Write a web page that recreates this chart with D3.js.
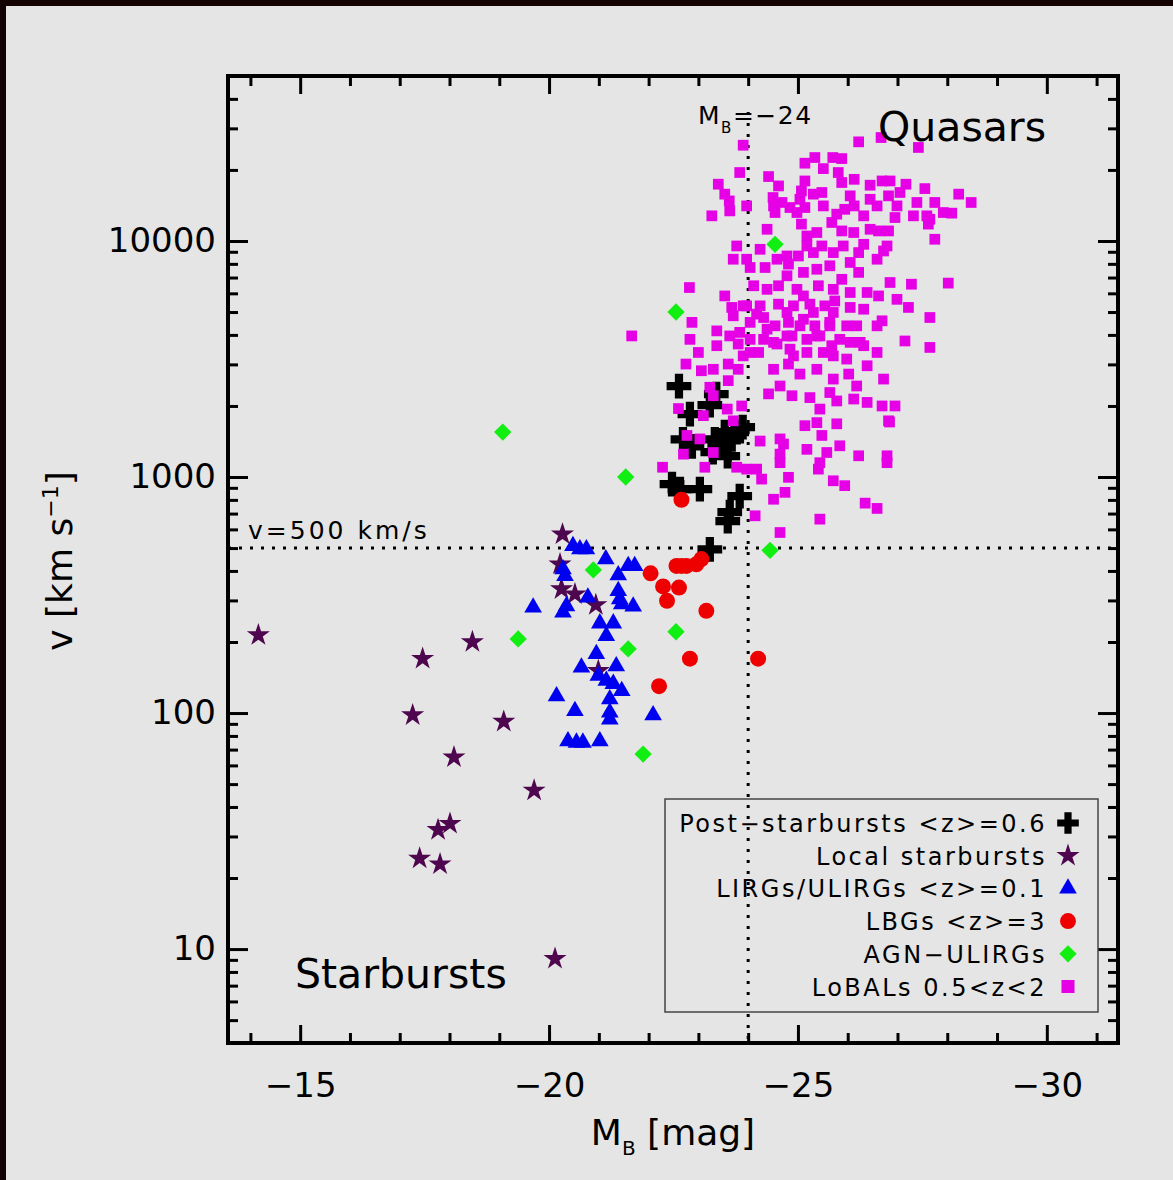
<!DOCTYPE html>
<html>
<head>
<meta charset="utf-8">
<script src="https://cdn.jsdelivr.net/npm/d3@7"></script>
<style>
  body { margin: 0; background: #140202; }
  svg text { font-family: "DejaVu Sans", sans-serif; fill: #000; }
</style>
</head>
<body>
<div id="chart"></div>
<script>
// [M_B, v (km/s)]
const postStarbursts = [
  [-22.61, 2425], [-23.36, 2244], [-23.23, 2014], [-22.83, 1845], [-22.69, 1445],
  [-22.87, 1349], [-23.33, 1445], [-23.53, 1549], [-23.67, 1445], [-23.89, 1626],
  [-23.77, 1549], [-23.59, 1225], [-23.29, 1274], [-23.43, 1349], [-22.47, 932],
  [-22.63, 888], [-23.03, 888], [-23.83, 830], [-23.63, 710], [-23.59, 650],
  [-23.23, 494]
]

const localStarbursts = [
  [-14.16, 214], [-18.46, 200], [-17.46, 170], [-17.26, 98], [-19.09, 92],
  [-18.09, 65], [-19.70, 47], [-18.01, 34], [-17.77, 32], [-17.40, 24.2],
  [-17.81, 22.9], [-20.12, 9.1], [-20.25, 335], [-20.27, 572], [-20.22, 427],
  [-20.52, 319], [-20.94, 287], [-20.99, 151]
]

const lirgs = [
  [-20.48, 511], [-20.62, 495], [-20.75, 495], [-21.14, 449], [-20.28, 407],
  [-20.32, 381], [-21.39, 384], [-21.59, 420], [-21.72, 420], [-19.68, 280],
  [-20.35, 284], [-20.28, 267], [-20.78, 309], [-21.39, 329], [-21.42, 304],
  [-21.46, 289], [-21.69, 283], [-21.02, 240], [-21.29, 240], [-21.15, 212],
  [-20.95, 178], [-20.65, 156], [-21.35, 158], [-20.99, 144], [-21.15, 137],
  [-21.29, 133], [-20.15, 118], [-21.46, 124], [-21.22, 114.5], [-21.22, 100.6],
  [-21.22, 94], [-20.52, 102], [-22.09, 98], [-20.38, 76], [-20.55, 75],
  [-20.68, 75], [-21.02, 76]
]

const lbgs = [
  [-22.66, 801], [-22.04, 391], [-22.29, 344], [-22.61, 340], [-22.37, 299],
  [-23.16, 271], [-22.83, 170], [-22.21, 130], [-24.20, 170], [-22.56, 420],
  [-22.66, 420], [-22.76, 420], [-22.96, 427], [-23.06, 449]
]

const agnUlirgs = [
  [-22.55, 5000], [-19.07, 1550], [-21.54, 1000], [-24.54, 9680], [-24.44, 489],
  [-20.89, 404], [-19.38, 206], [-21.59, 187], [-22.55, 221], [-21.89, 67]
]

const lobals = [
  [-26.22, 26300], [-26.67, 27430], [-27.42, 24900], [-23.90, 25450], [-23.83, 19500],
  [-24.41, 18750], [-24.61, 17110], [-25.14, 21360], [-25.34, 22570], [-25.51, 20260],
  [-25.70, 22570], [-25.88, 22340], [-25.81, 19500], [-25.14, 17960], [-25.88, 17690],
  [-26.13, 18250], [-26.45, 17230], [-26.69, 17960], [-26.85, 17960], [-27.17, 17400],
  [-27.55, 16670], [-23.40, 17400], [-23.53, 15790], [-23.62, 14780], [-23.63, 13410],
  [-23.27, 12780], [-23.97, 14080], [-24.50, 15280], [-24.51, 14080], [-24.68, 14560],
  [-24.84, 13860], [-25.07, 16290], [-25.04, 15020], [-25.31, 15790], [-25.48, 16050],
  [-25.51, 14080], [-25.14, 13860], [-24.54, 13200], [-24.98, 13200], [-26.05, 15530],
  [-26.13, 14080], [-26.45, 15020], [-26.59, 14080], [-26.82, 15530], [-26.99, 14080],
  [-27.05, 16050], [-26.32, 12780], [-25.78, 12990], [-25.94, 13620], [-26.95, 12570],
  [-27.39, 14560], [-27.32, 12780], [-27.75, 14560], [-27.59, 12780], [-27.62, 11790],
  [-27.92, 13200], [-28.09, 13120], [-28.23, 15790], [-28.48, 14560], [-27.75, 10170],
  [-24.38, 11210], [-25.07, 11790], [-25.68, 11980], [-25.88, 11030], [-26.12, 10860],
  [-26.45, 11210], [-26.62, 11030], [-26.82, 11030], [-25.18, 10500], [-25.38, 10860],
  [-25.48, 9525], [-25.18, 9525], [-25.01, 8640], [-25.31, 8930], [-25.71, 8930],
  [-25.91, 9525], [-26.22, 8930], [-26.32, 9680], [-26.72, 9070], [-26.79, 9525],
  [-23.77, 9525], [-23.70, 8370], [-24.24, 9220], [-23.97, 8370], [-24.04, 7720],
  [-24.34, 7720], [-24.78, 8640], [-24.81, 7980], [-24.58, 8370], [-24.78, 7120],
  [-25.11, 7360], [-25.38, 7590], [-25.64, 7850], [-26.05, 8110], [-26.22, 7360],
  [-26.59, 8370], [-26.85, 6670], [-27.28, 6560], [-28.02, 6630], [-22.82, 6350],
  [-23.53, 5850], [-23.67, 5230], [-24.11, 6460], [-24.38, 6240], [-24.61, 6460],
  [-24.98, 6240], [-25.11, 5850], [-25.41, 6460], [-25.71, 6240], [-25.88, 6880],
  [-26.05, 6050], [-26.39, 6050], [-26.62, 5850], [-23.90, 5310], [-24.24, 5310],
  [-24.61, 5400], [-24.91, 5310], [-25.24, 5400], [-25.54, 5310], [-25.74, 5570],
  [-26.05, 5230], [-26.32, 5140], [-26.99, 5660], [-27.22, 5230], [-27.65, 4740],
  [-22.87, 4520], [-23.37, 4160], [-23.63, 3960], [-24.04, 4520], [-24.31, 4740],
  [-24.54, 4370], [-24.81, 4520], [-25.11, 4660], [-25.34, 4370], [-25.64, 4520],
  [-25.98, 4370], [-26.18, 4370], [-26.59, 4370], [-22.83, 3830], [-23.37, 3600],
  [-23.00, 3370], [-23.80, 3660], [-24.04, 3370], [-24.31, 3830], [-24.58, 3660],
  [-24.88, 3960], [-25.18, 3830], [-25.44, 3960], [-25.68, 3600], [-26.05, 3720],
  [-26.32, 3600], [-26.59, 3370], [-27.15, 3770], [-27.65, 3540], [-24.84, 3480],
  [-25.51, 3370], [-27.65, 12360], [-26.72, 2600], [-26.95, 2000], [-26.84, 1710],
  [-26.69, 2000], [-21.66, 3960], [-22.75, 3010], [-23.06, 2820], [-23.30, 2860],
  [-23.60, 3010], [-23.80, 2860], [-23.23, 2400], [-23.60, 2560], [-22.60, 1950],
  [-23.10, 1820], [-23.30, 2210], [-23.58, 1940], [-23.87, 2000], [-23.70, 1730],
  [-22.77, 1500], [-23.03, 1450], [-23.30, 1270], [-22.70, 1250], [-22.28, 1100],
  [-23.13, 1100], [-23.77, 1100], [-23.97, 1080], [-24.17, 1080], [-24.27, 980],
  [-24.81, 997], [-24.24, 1420], [-24.64, 1450], [-24.71, 1380], [-24.64, 1250],
  [-24.64, 1150], [-25.18, 1310], [-25.41, 1080], [-25.44, 1150], [-25.71, 964],
  [-25.94, 919], [-25.84, 1356], [-26.22, 1230], [-26.79, 1230], [-26.79, 1150],
  [-24.51, 805], [-24.74, 861], [-24.14, 685], [-24.64, 582], [-25.44, 663],
  [-26.35, 775], [-26.59, 736], [-25.14, 1650], [-25.38, 1700], [-25.48, 1500],
  [-25.78, 1680], [-25.58, 1270], [-26.82, 1730], [-26.69, 4590], [-26.25, 3720],
  [-26.39, 2960], [-25.98, 3160], [-26.02, 2730], [-26.18, 2430], [-25.71, 2600],
  [-25.38, 2860], [-25.04, 2730], [-24.81, 3010], [-24.51, 2860], [-24.64, 2430],
  [-24.41, 2250], [-24.88, 2210], [-25.24, 2170], [-25.44, 1940], [-25.78, 2100],
  [-26.12, 2140], [-26.39, 2070], [-25.64, 2280], [-25.18, 3370], [-24.91, 3260],
  [-25.71, 3260], [-24.21, 3370], [-23.90, 3260], [-24.04, 3830], [-24.38, 4230],
  [-24.78, 3960], [-24.51, 3720], [-25.04, 4370], [-25.38, 3960], [-25.64, 4370],
  [-25.84, 3830], [-25.31, 4980], [-24.78, 4980], [-24.17, 4900], [-23.70, 4820],
  [-23.83, 4100], [-23.97, 5310], [-25.71, 4980]
]

const xMajorTicks = [-15, -20, -25, -30]
const xMinorTicks = [-14, -16, -17, -18, -19, -21, -22, -23, -24, -26, -27, -28, -29, -31]
const yMajorTicks = [10, 100, 1000, 10000]
const yMinorTicks = [5, 6, 7, 8, 9, 20, 30, 40, 50, 60, 70, 80, 90,
  200, 300, 400, 500, 600, 700, 800, 900, 2000, 3000, 4000, 5000, 6000, 7000, 8000, 9000,
  20000, 30000, 40000]

const legendLabels = ['Post\u2212starbursts <z>=0.6', 'Local starbursts', 'LIRGs/ULIRGs <z>=0.1',
  'LBGs <z>=3', 'AGN\u2212ULIRGs', 'LoBALs 0.5<z<2']

const W = 1173, H = 1180
const plot = {left: 228, right: 1118, top: 76, bottom: 1043}

const x = d3.scaleLinear().domain([-13.55, -31.43]).range([plot.left, plot.right])
const y = d3.scaleLog().domain([4, 50000]).range([plot.bottom, plot.top])

const svg = d3.select('#chart').append('svg')
  .attr('width', W).attr('height', H)

svg.append('rect').attr('x', 6).attr('y', 6).attr('width', W - 6).attr('height', H - 6)
  .attr('fill', '#e5e5e5')

// marker definitions
const series = [
  {data: postStarbursts, type: d3.symbolCross, size: 340, color: '#000', rot: 0},
  {data: localStarbursts, type: d3.symbolStar, size: 165, color: '#4e064f', rot: 0},
  {data: lirgs, type: d3.symbolTriangle, size: 135, color: '#0000f0', rot: 0},
  {data: lbgs, type: d3.symbolCircle, size: 200, color: '#ee0000', rot: 0},
  {data: agnUlirgs, type: d3.symbolSquare, size: 150, color: '#11ee11', rot: 45},
  {data: lobals, type: d3.symbolSquare, size: 115, color: '#e600e6', rot: 0}
]

// reference lines
svg.append('line')
  .attr('x1', x(-24)).attr('x2', x(-24)).attr('y1', plot.top + 36).attr('y2', plot.bottom)
  .attr('stroke', '#000').attr('stroke-width', 3).attr('stroke-dasharray', '3,8')
svg.append('line')
  .attr('x1', plot.left).attr('x2', plot.right).attr('y1', y(500)).attr('y2', y(500))
  .attr('stroke', '#000').attr('stroke-width', 3).attr('stroke-dasharray', '3,8')

// points
series.forEach((s) => {
  let sym = d3.symbol().type(s.type).size(s.size)
  svg.append('g').selectAll('path')
    .data(s.data).enter().append('path')
    .attr('d', sym)
    .attr('transform', (d) => 'translate(' + x(d[0]) + ',' + y(d[1]) + ') rotate(' + s.rot + ')')
    .attr('fill', s.color)
})

// axes
let drawAxis = (axis, tx, ty) => {
  let g = svg.append('g').attr('transform', 'translate(' + tx + ',' + ty + ')').call(axis)
  g.select('.domain').remove()
  g.selectAll('line').attr('stroke', '#000').attr('stroke-width', 3)
  g.selectAll('text').style('font-size', '34px')
  return g
}

drawAxis(d3.axisBottom(x).tickValues(xMajorTicks).tickSize(-18).tickPadding(30)
  .tickFormat((d) => '\u2212' + Math.abs(d)), 0, plot.bottom)
drawAxis(d3.axisBottom(x).tickValues(xMinorTicks).tickSize(-10).tickFormat(''), 0, plot.bottom)
drawAxis(d3.axisTop(x).tickValues(xMajorTicks).tickSize(-18).tickFormat(''), 0, plot.top)
drawAxis(d3.axisTop(x).tickValues(xMinorTicks).tickSize(-10).tickFormat(''), 0, plot.top)
drawAxis(d3.axisLeft(y).tickValues(yMajorTicks).tickSize(-20).tickPadding(12)
  .tickFormat(d3.format('d')), plot.left, 0)
drawAxis(d3.axisLeft(y).tickValues(yMinorTicks).tickSize(-10).tickFormat(''), plot.left, 0)
drawAxis(d3.axisRight(y).tickValues(yMajorTicks).tickSize(-20).tickFormat(''), plot.right, 0)
drawAxis(d3.axisRight(y).tickValues(yMinorTicks).tickSize(-10).tickFormat(''), plot.right, 0)

svg.append('rect')
  .attr('x', plot.left).attr('y', plot.top)
  .attr('width', plot.right - plot.left).attr('height', plot.bottom - plot.top)
  .attr('fill', 'none').attr('stroke', '#000').attr('stroke-width', 4)

// axis titles
let xt = svg.append('text').attr('x', 673).attr('y', 1145).attr('text-anchor', 'middle')
  .style('font-size', '36px')
xt.append('tspan').text('M')
xt.append('tspan').attr('dy', 10).style('font-size', '20px').text('B')
xt.append('tspan').attr('dy', -10).text(' [mag]')

let yt = svg.append('text').attr('transform', 'translate(72,561) rotate(-90)')
  .attr('text-anchor', 'middle').style('font-size', '36px')
yt.append('tspan').text('v [km s')
yt.append('tspan').attr('dy', -14).style('font-size', '22px').text('\u22121')
yt.append('tspan').attr('dy', 14).text(']')

// annotations
let mb = svg.append('text').attr('x', 698).attr('y', 124).style('font-size', '25px')
  .style('letter-spacing', '1.5px')
mb.append('tspan').text('M')
mb.append('tspan').attr('dy', 9).style('font-size', '15px').text('B')
mb.append('tspan').attr('dy', -9).text('=\u221224')

svg.append('text').attr('x', 248).attr('y', 539).style('font-size', '25px')
  .style('letter-spacing', '3px').text('v=500 km/s')
svg.append('text').attr('x', 878).attr('y', 141).style('font-size', '41px').text('Quasars')
svg.append('text').attr('x', 295).attr('y', 988).style('font-size', '41px').text('Starbursts')

// legend
let lg = svg.append('g')
lg.append('rect').attr('x', 665).attr('y', 799).attr('width', 433).attr('height', 213)
  .attr('fill', 'none').attr('stroke', '#444').attr('stroke-width', 1.5)
legendLabels.forEach((label, i) => {
  let cy = 823 + i * 32.7
  lg.append('text').attr('x', 1047).attr('y', cy + 9).attr('text-anchor', 'end')
    .style('font-size', '24px').style('letter-spacing', '2.5px').text(label)
  let s = series[i]
  let sym = d3.symbol().type(s.type).size(i === 0 ? 260 : i === 5 ? 170 : s.size)
  lg.append('path').attr('d', sym)
    .attr('transform', 'translate(1068,' + cy + ') rotate(' + s.rot + ')')
    .attr('fill', s.color)
})
</script>
</body>
</html>
